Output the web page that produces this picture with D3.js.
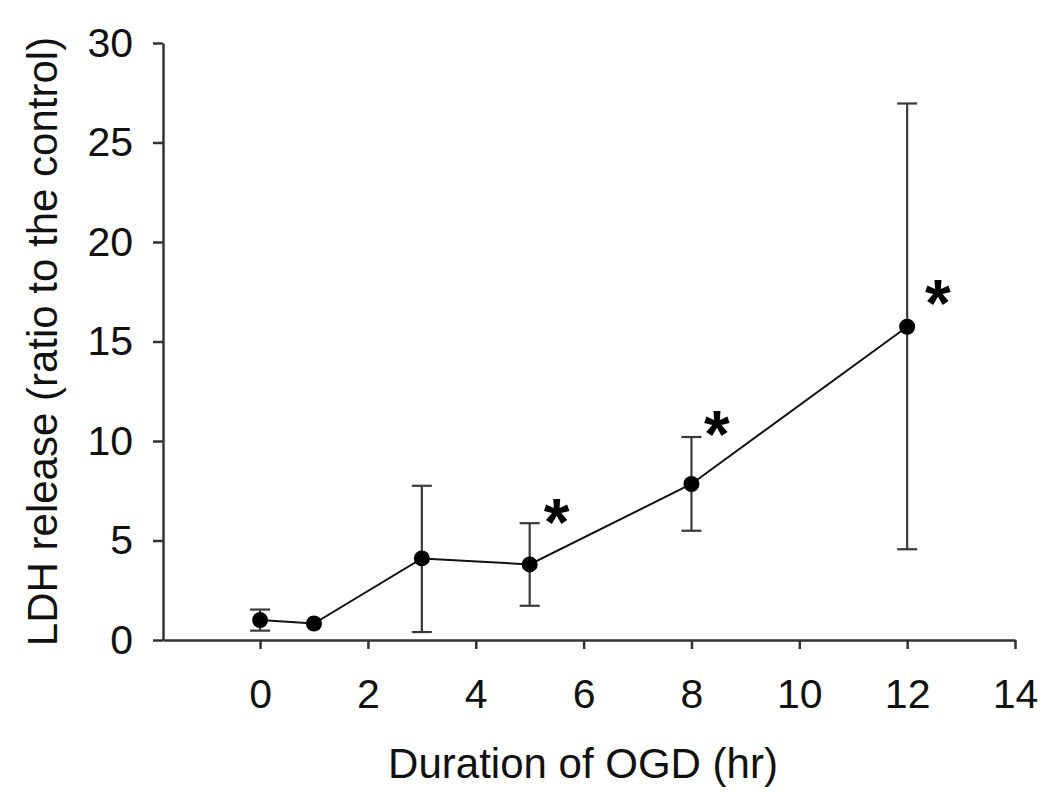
<!DOCTYPE html>
<html>
<head>
<meta charset="utf-8">
<script src="https://cdn.jsdelivr.net/npm/d3@7"></script>
<style>
  html, body { margin: 0; padding: 0; background: #fff; }
  svg { display: block; }
  text { font-family: "Liberation Sans", Arial, sans-serif; }
</style>
</head>
<body>
<div id="chart"></div>
<script>
// Data
const durations = [0, 1, 3, 5, 8, 12];               // hr
const ldhMeans  = [1.0, 0.83, 4.1, 3.8, 7.84, 15.74];
const errLow    = [0.47, 0.83, 0.4, 1.72, 5.49, 4.56];
const errHigh   = [1.53, 0.83, 7.75, 5.87, 10.2, 26.96];
const hasErrBar = [true, false, true, true, true, true];
// significance markers (positions in data units)
const starX = [5.5, 8.47, 12.57];
const starY = [6.37, 10.8, 17.35];
const xTicks = [0, 2, 4, 6, 8, 10, 12, 14];
const yTicks = [0, 5, 10, 15, 20, 25, 30];
const xTitle = "Duration of OGD (hr)";
const yTitle = "LDH release (ratio to the control)";

const W = 1050, H = 794;
const svg = d3.select("#chart").append("svg").attr("width", W).attr("height", H);

const x = d3.scaleLinear().domain([-1.8, 14]).range([163, 1015]);
const y = d3.scaleLinear().domain([0, 30]).range([640, 43]);

const axisColor = "#333";
const fs = 41;

// X axis
const gx = svg.append("g").attr("transform", `translate(0,${y(0)})`)
  .call(d3.axisBottom(x).tickValues(xTicks).tickSizeInner(9).tickSizeOuter(0).tickPadding(30));
gx.select(".domain").attr("stroke", axisColor).attr("stroke-width", 2.5);
gx.selectAll(".tick line").attr("stroke", axisColor).attr("stroke-width", 2.5);
gx.selectAll(".tick text").attr("font-size", fs).attr("fill", "#111")
  .style("font-family", '"Liberation Sans", Arial, sans-serif');

// Y axis
const gy = svg.append("g").attr("transform", `translate(${x(-1.8)},0)`)
  .call(d3.axisLeft(y).tickValues(yTicks).tickSizeInner(10).tickSizeOuter(0).tickPadding(20));
gy.select(".domain").attr("stroke", axisColor).attr("stroke-width", 2.5);
gy.selectAll(".tick line").attr("stroke", axisColor).attr("stroke-width", 2.5);
gy.selectAll(".tick text").attr("font-size", fs).attr("fill", "#111")
  .style("font-family", '"Liberation Sans", Arial, sans-serif');

// Titles
svg.append("text").attr("x", 583).attr("y", 778).attr("text-anchor", "middle")
  .attr("font-size", 42).attr("fill", "#111").text(xTitle);
svg.append("text").attr("transform", `translate(57,${(y(0) + y(30)) / 2}) rotate(-90)`)
  .attr("text-anchor", "middle").attr("font-size", 42).attr("fill", "#111").text(yTitle);

const pts = durations.map((d, i) => ({ x: d, m: ldhMeans[i], lo: errLow[i], hi: errHigh[i], eb: hasErrBar[i] }));

// Error bars
const eg = svg.append("g").attr("stroke", "#3a3a3a").attr("stroke-width", 2.2).attr("fill", "none");
pts.filter(p => p.eb).forEach(p => {
  const cx = x(p.x);
  eg.append("line").attr("x1", cx).attr("x2", cx).attr("y1", y(p.lo)).attr("y2", y(p.hi));
  eg.append("line").attr("x1", cx - 10).attr("x2", cx + 10).attr("y1", y(p.lo)).attr("y2", y(p.lo));
  eg.append("line").attr("x1", cx - 10).attr("x2", cx + 10).attr("y1", y(p.hi)).attr("y2", y(p.hi));
});

// Line
svg.append("path").datum(pts)
  .attr("fill", "none").attr("stroke", "#111").attr("stroke-width", 2)
  .attr("d", d3.line().x(p => x(p.x)).y(p => y(p.m)));

// Points
svg.append("g").selectAll("circle").data(pts).join("circle")
  .attr("cx", p => x(p.x)).attr("cy", p => y(p.m)).attr("r", 8).attr("fill", "#000");

// Asterisks
svg.append("g").selectAll("text").data(starX).join("text")
  .attr("x", (d) => x(d)).attr("y", (d, i) => y(starY[i]))
  .attr("text-anchor", "middle").attr("dominant-baseline", "central")
  .attr("dy", "0.13em")
  .attr("font-size", 66).attr("font-weight", "bold").attr("fill", "#000")
  .text("*");
</script>
</body>
</html>
